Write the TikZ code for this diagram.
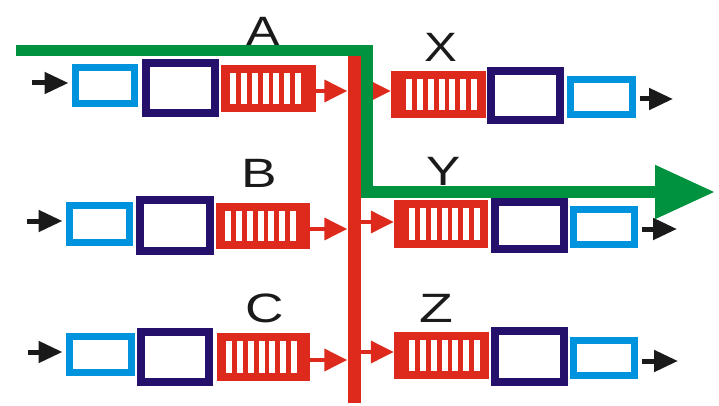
\documentclass[tikz,border=0pt]{standalone}
\usepackage{fontspec}
\setmainfont{Liberation Sans}
\usetikzlibrary{arrows.meta,calc}
\definecolor{cblue}{HTML}{0093DD}
\definecolor{cpurple}{HTML}{25106B}
\definecolor{cred}{HTML}{DE2A1C}
\definecolor{cgreen}{HTML}{00923F}
\definecolor{cblack}{HTML}{1A1A1A}
\begin{document}
\begin{tikzpicture}[x=1pt,y=-1pt,
  bluebox/.style={draw=cblue,line width=7pt,inner sep=0pt,fill=white},
  purplebox/.style={draw=cpurple,line width=8pt,inner sep=0pt,fill=white},
  queuebox/.style={fill=cred,inner sep=0pt,draw=none},
  blackarrow/.style={draw=cblack,line width=5pt,-{Triangle[length=24pt,width=21pt]}},
  redarrow/.style={draw=cred,line width=3.5pt,-{Triangle[length=23pt,width=22pt]}},
  greenpath/.style={draw=cgreen,line width=11.5pt,line join=miter,-{Triangle[length=60pt,width=51pt]}},
  lab/.style={inner sep=0pt,anchor=base,text=cblack,font=\fontsize{41}{48}\selectfont}
]
\useasboundingbox (0,0) rectangle (719,406);

% ---------- coordinates for connector ends ----------
\coordinate (inA) at (32,83);
\coordinate (inB) at (27,221);
\coordinate (inC) at (28,352);
\coordinate (yA) at (0,91);
\coordinate (yB) at (0,229);
\coordinate (yC) at (0,360);
\coordinate (yX) at (0,91);
\coordinate (yY) at (0,222);
\coordinate (yZ) at (0,352);
\coordinate (outX) at (673,99);
\coordinate (outY) at (677,229);
\coordinate (outZ) at (678,361);

% ---------- bus ----------
\node[fill=cred,inner sep=0pt,minimum width=13pt,minimum height=348pt] (bus) at (354,229) {};

% ---------- left side boxes ----------
\node[bluebox,minimum width=59pt,minimum height=36pt] (lbA) at (105,85.5) {};
\node[purplebox,minimum width=69pt,minimum height=50pt] (puA) at (180.5,88) {};
\node[queuebox,minimum width=95pt,minimum height=47pt] (rqA) at (268.5,88.5) {};

\node[bluebox,minimum width=60pt,minimum height=37pt] (lbB) at (99.5,224) {};
\node[purplebox,minimum width=70pt,minimum height=51pt] (puB) at (175,225.5) {};
\node[queuebox,minimum width=94pt,minimum height=46pt] (rqB) at (263,226) {};

\node[bluebox,minimum width=62pt,minimum height=36pt] (lbC) at (100.5,354.5) {};
\node[purplebox,minimum width=68pt,minimum height=50pt] (puC) at (175,357) {};
\node[queuebox,minimum width=93pt,minimum height=48pt] (rqC) at (263.5,357) {};

% ---------- right side boxes ----------
\node[queuebox,minimum width=95pt,minimum height=47pt] (rqX) at (438.5,94.5) {};
\node[purplebox,minimum width=69pt,minimum height=49pt] (puX) at (525.5,95.5) {};
\node[bluebox,minimum width=62pt,minimum height=35pt] (lbX) at (601.5,97) {};

\node[queuebox,minimum width=94pt,minimum height=48pt] (rqY) at (441,224) {};
\node[purplebox,minimum width=69pt,minimum height=47pt] (puY) at (529.5,225.5) {};
\node[bluebox,minimum width=61pt,minimum height=35pt] (lbY) at (604,227) {};

\node[queuebox,minimum width=95pt,minimum height=47pt] (rqZ) at (441.5,355.5) {};
\node[purplebox,minimum width=69pt,minimum height=51pt] (puZ) at (529.5,356.5) {};
\node[bluebox,minimum width=61pt,minimum height=35pt] (lbZ) at (604,358) {};

% ---------- queue slots ----------
\foreach \q in {rqA,rqB,rqC}{
  \foreach \i in {0,...,6}{
    \fill[white] ($(\q.north west)+(9+\i*10.9,8)$) rectangle ($(\q.south west)+(15+\i*10.9,-8)$);
  }
}
\foreach \q in {rqX,rqY,rqZ}{
  \foreach \i in {0,...,6}{
    \fill[white] ($(\q.north west)+(15+\i*10.9,8)$) rectangle ($(\q.south west)+(21+\i*10.9,-8)$);
  }
}

% ---------- input arrows ----------
\draw[blackarrow,shorten >=3.5pt] (inA) -- (inA -| lbA.west);
\draw[blackarrow,shorten >=3.5pt] (inB) -- (inB -| lbB.west);
\draw[blackarrow,shorten >=3.5pt] (inC) -- (inC -| lbC.west);

% ---------- queue to bus ----------
\draw[redarrow] (rqA.east |- yA) -- (bus.west |- yA);
\draw[redarrow] (rqB.east |- yB) -- (bus.west |- yB);
\draw[redarrow] (rqC.east |- yC) -- (bus.west |- yC);

% ---------- bus to output queues ----------
\draw[redarrow] (bus.east |- yX) -- (rqX.west |- yX);
\draw[redarrow] (bus.east |- yY) -- (rqY.west |- yY);
\draw[redarrow] (bus.east |- yZ) -- (rqZ.west |- yZ);

% ---------- output arrows ----------
\draw[blackarrow,shorten <=3.5pt] (lbX.east |- outX) -- (outX);
\draw[blackarrow,shorten <=3.5pt] (lbY.east |- outY) -- (outY);
\draw[blackarrow,shorten <=3.5pt] (lbZ.east |- outZ) -- (outZ);

% ---------- labels ----------
\node[lab] (labA) at (263.5,46) {\scalebox{1.22}[1]{A}};
\node[lab] (labB) at (259,187) {\scalebox{1.3}[1]{B}};
\node[lab] (labC) at (264.5,322) {\scalebox{1.3}[1]{C}};
\node[lab] (labX) at (441,62) {\scalebox{1.2}[1]{X}};
\node[lab] (labY) at (444,185) {\scalebox{1.25}[1]{Y}};
\node[lab] (labZ) at (436.5,322) {\scalebox{1.35}[1]{Z}};

% ---------- green path ----------
\coordinate (gStart) at (16,50.5);
\coordinate (gCorner) at (367,50.5);
\coordinate (gEnd) at (715,192);
\draw[greenpath] (gStart) -- (gCorner) -- (gCorner |- gEnd) -- (gEnd);
\end{tikzpicture}
\end{document}
